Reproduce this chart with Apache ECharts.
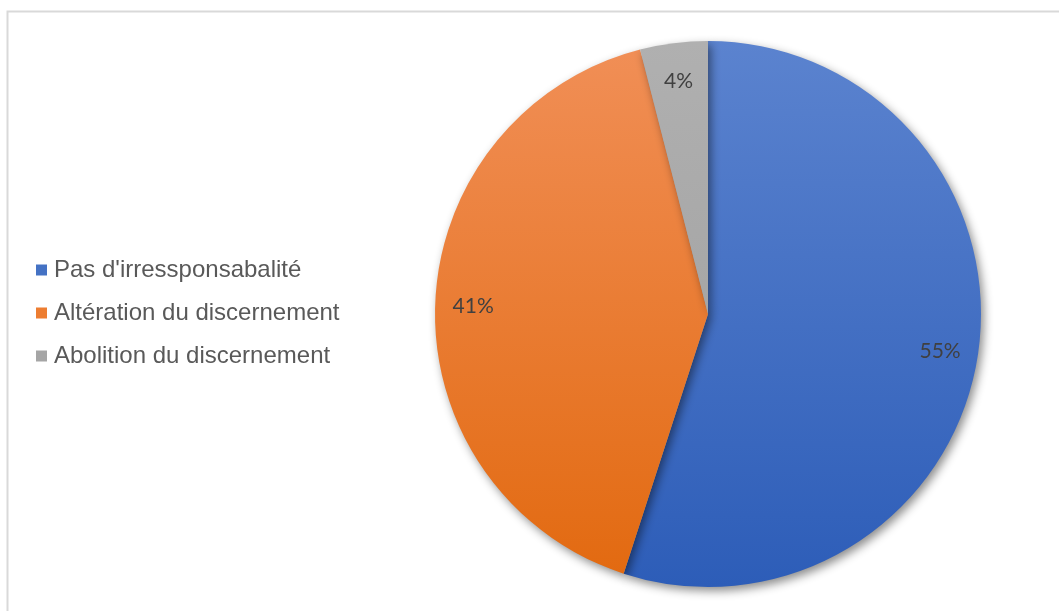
<!DOCTYPE html>
<html>
<head>
<meta charset="utf-8">
<style>
  html, body { margin: 0; padding: 0; background: #ffffff; }
  #chart { width: 1059px; height: 611px; }
</style>
<script src="https://cdn.jsdelivr.net/npm/echarts@6/dist/echarts.min.js"></script>
</head>
<body>
<div id="chart"></div>
<script>
// Categories and their shares (%)
const categories = ["Pas d'irressponsabalité", "Altération du discernement", "Abolition du discernement"];
const shares = [55, 41, 4];

// Slice colours: lighter at the top of the pie, darker at the bottom
const topColors = ['#5B83CF', '#F18F57', '#B0B0B0'];
const bottomColors = ['#2D5DB8', '#E2690F', '#9C9C9C'];
const legendColors = ['#4472C4', '#ED7D31', '#A5A5A5'];

const cx = 708, cy = 314, r = 273;

function fill(i) {
  return {
    type: 'linear', global: true,
    x: 0, y: cy - r, x2: 0, y2: cy + r,
    colorStops: [
      { offset: 0, color: topColors[i] },
      { offset: 1, color: bottomColors[i] }
    ]
  };
}

const chart = echarts.init(document.getElementById('chart'), null, { renderer: 'canvas' });

chart.setOption({
  animation: false,
  graphic: [{
    type: 'rect',
    shape: { x: 7.5, y: 11.5, width: 1060, height: 700 },
    style: { fill: 'none', stroke: '#D9D9D9', lineWidth: 2 },
    silent: true,
    z: -10
  }],
  legend: {
    orient: 'vertical',
    left: 31,
    top: 252,
    padding: 5,
    itemWidth: 11,
    itemHeight: 11,
    itemGap: 17,
    icon: 'rect',
    textStyle: {
      fontFamily: 'Liberation Sans, Arial, sans-serif',
      fontSize: 24,
      lineHeight: 26,
      color: '#595959',
      padding: [0, 0, 0, 2]
    },
    data: categories.map((name, i) => ({ name, itemStyle: { color: legendColors[i] } }))
  },
  series: [
    {
      name: 'shares',
      type: 'pie',
      center: [cx, cy],
      radius: [0, r],
      startAngle: 90,
      clockwise: true,
      silent: true,
      label: { show: false },
      labelLine: { show: false },
      itemStyle: {
        borderWidth: 0,
        shadowColor: 'rgba(0,0,0,0.45)',
        shadowBlur: 10,
        shadowOffsetX: 3,
        shadowOffsetY: 4
      },
      data: categories.map((name, i) => ({ name, value: shares[i], itemStyle: { color: fill(i) } }))
    },
    {
      // transparent ring that only carries the percentage labels near the rim
      name: 'labels',
      type: 'pie',
      center: [cx, cy],
      radius: [Math.round(r * 0.70), r],
      startAngle: 90,
      clockwise: true,
      silent: true,
      z: 5,
      itemStyle: { color: 'rgba(0,0,0,0)', borderWidth: 0 },
      label: {
        show: true,
        position: 'inside',
        formatter: p => p.value + '%',
        fontFamily: 'Lato, Carlito, sans-serif',
        fontSize: 21,
        color: '#404040'
      },
      labelLine: { show: false },
      data: categories.map((name, i) => ({ name, value: shares[i] }))
    }
  ]
});
</script>
</body>
</html>
